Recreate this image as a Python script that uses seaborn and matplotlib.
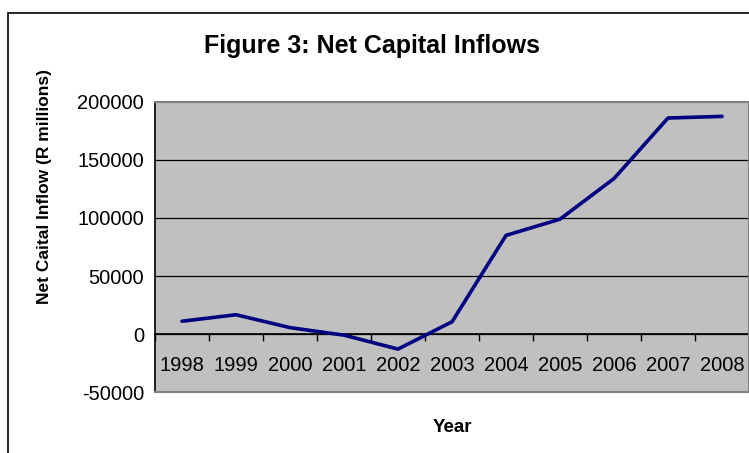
import numpy as np
import pandas as pd
import matplotlib
matplotlib.use("Agg")
import matplotlib.pyplot as plt
import matplotlib.patches as patches
import seaborn as sns

# data
years = ["1998", "1999", "2000", "2001", "2002", "2003",
         "2004", "2005", "2006", "2007", "2008"]
inflows = [11000, 16600, 5500, -1000, -13000, 10500,
           85000, 99000, 134000, 186200, 187600]
y_ticks = [-50000, 0, 50000, 100000, 150000, 200000]

sns.set_style("white")
plt.rcParams["font.family"] = ["Liberation Sans", "DejaVu Sans"]
plt.rcParams["text.color"] = "black"
plt.rcParams["xtick.color"] = "black"
plt.rcParams["ytick.color"] = "black"

df = pd.DataFrame({"pos": np.arange(len(years)), "value": inflows})

fig = plt.figure(figsize=(7.49, 4.53), dpi=100)
ax = fig.add_axes([155 / 749, 1 - 392 / 453, 594 / 749, 290 / 453])
ax.set_facecolor("#C0C0C0")

# horizontal gridlines (black, Excel style)
for v in y_ticks[1:-1]:
    ax.axhline(v, color="black", lw=0.9, zorder=1)

sns.lineplot(data=df, x="pos", y="value", color="#000080", lw=2.6,
             ax=ax, zorder=3)

ax.set_xlim(-0.5, len(years) - 0.5)
ax.set_ylim(-50000, 200000)
ax.set_yticks(y_ticks)
ax.set_yticklabels([str(v) for v in y_ticks], fontsize=14.5)
ax.tick_params(axis="y", direction="out", length=5, width=1, color="black",
               labelcolor="black", pad=3)
ax.set_xticks([])
ax.set_xlabel("")
ax.set_ylabel("")

for s in ["top", "right", "bottom"]:
    ax.spines[s].set_color("#808080")
    ax.spines[s].set_linewidth(1.5)
ax.spines["left"].set_color("black")
ax.spines["left"].set_linewidth(1.2)

# category axis crossing at zero
sec = ax.secondary_xaxis(0.2)
sec.spines["bottom"].set_color("black")
sec.spines["bottom"].set_linewidth(1.2)
sec.set_xticks(df["pos"])
sec.set_xticklabels(years, fontsize=14.5)
sec.set_xticks(np.arange(-0.5, len(years)), minor=True)
sec.tick_params(axis="x", which="major", length=0, pad=16, labelcolor="black")
sec.tick_params(axis="x", which="minor", length=5, width=1, color="black", direction="out")

# labels
ax.text(-0.186, 0.71, "Net Caital Inflow (R millions)", transform=ax.transAxes,
        rotation=90, ha="center", va="center", fontsize=12.5, fontweight="bold",
        color="black")
ax.text(0.5, -(427 - 392) / 290, "Year", transform=ax.transAxes, ha="center",
        va="center", fontsize=13.5, fontweight="bold", color="black")
fig.text(372 / 749, 1 - 46 / 453, "Figure 3: Net Capital Inflows",
         ha="center", va="center", fontsize=18, fontweight="bold", color="black")

# outer chart border
fig.patches.append(patches.Rectangle((7.5 / 749, -0.1), 1.2, 1 - 12.5 / 453 + 0.1,
                                     transform=fig.transFigure, fill=False,
                                     edgecolor="black", lw=1.2))

fig.savefig("out.png", dpi=100)
